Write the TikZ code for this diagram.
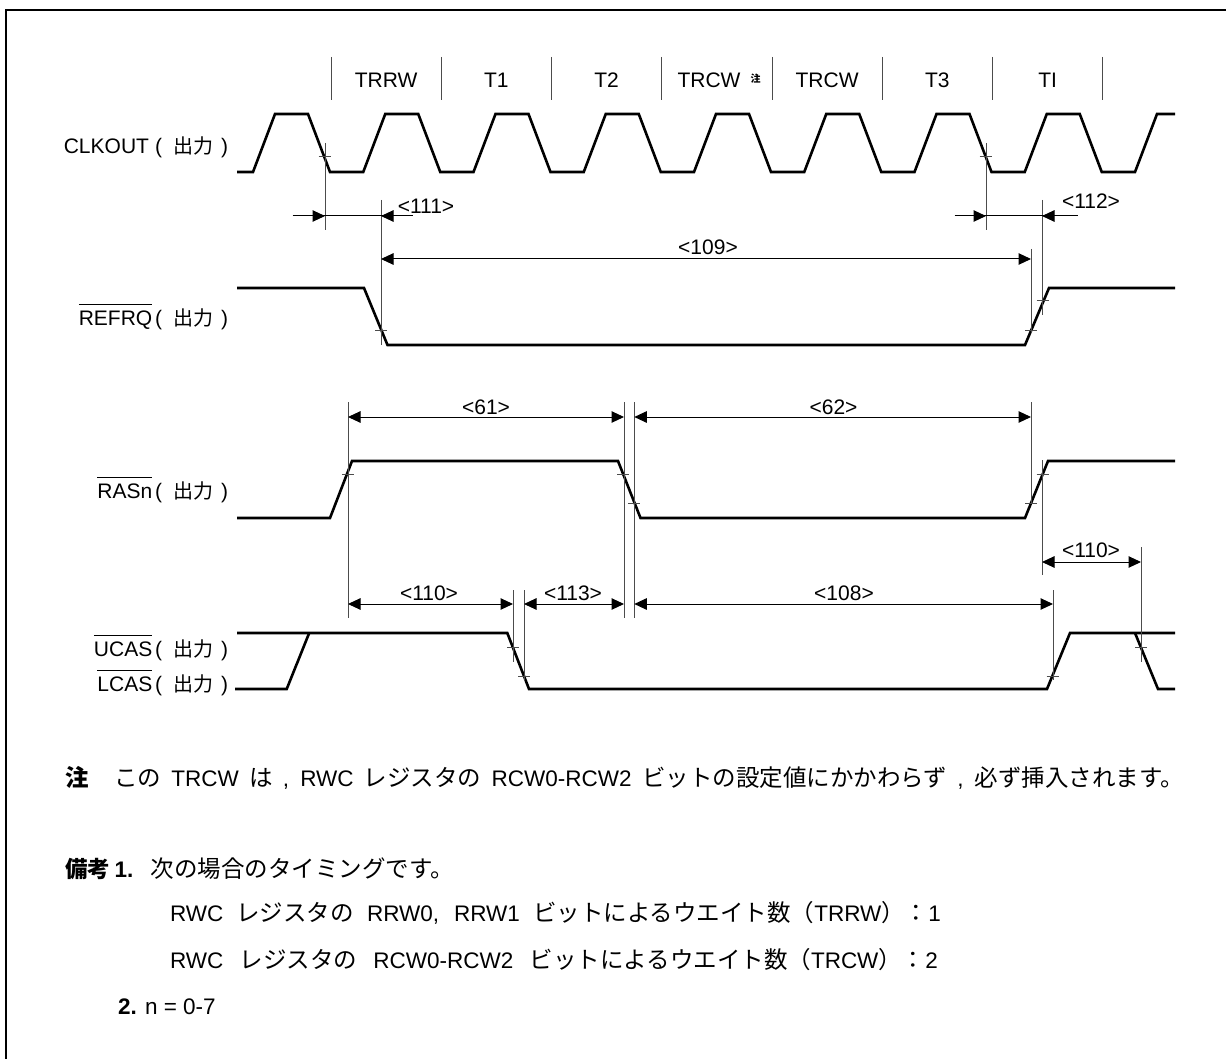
\documentclass[tikz,border=0pt]{standalone}
\usepackage{fontspec}
\setmainfont{Liberation Sans}
\newfontfamily\jp{Noto Sans CJK JP}
\usetikzlibrary{arrows.meta}
\newcommand\J[1]{{\fontsize{23.5}{27}\selectfont\jp #1}}
\newcommand\outp{(\hspace{11pt}{\fontsize{20}{22}\selectfont\jp 出力}\hspace{8pt})}
\tikzset{
  wave/.style={line width=2.6pt},
  ext/.style={line width=1pt, black!70},
  tk/.style={line width=1pt, black!70},
  dimline/.style={line width=1pt},
  dimarr/.style={line width=1pt, {Triangle[length=12.5pt,width=11.5pt]}-{Triangle[length=12.5pt,width=11.5pt]}},
  tipr/.style={line width=1pt, -{Triangle[length=12.5pt,width=11.5pt]}},
  txt/.style={font=\fontsize{21}{25}\selectfont, inner sep=0pt, outer sep=0pt},
  btxt/.style={font=\fontsize{22.5}{27}\selectfont, inner sep=0pt, outer sep=0pt, anchor=base west},
}
\begin{document}
\begin{tikzpicture}[x=1pt,y=-1pt]
\useasboundingbox (0,0) rectangle (1226,1059);
% frame
\draw[line width=1.6pt] (6,1062) -- (6,10) -- (1229,10);

% cycle markers
\foreach \k in {0,...,7} \draw[ext] ({331+110.25*\k},57) -- ++(0,43);
\foreach \t/\c [count=\i] in {TRRW/0, T1/1, T2/2, TRCW/4, T3/5, TI/6}
  \node[txt, anchor=base] (cyc\i) at ({386.1+110.25*\c},87.3) {\t};
\node[txt, anchor=base west] (cycn) at (677.5,87.3) {TRCW};
\node[inner sep=0pt, anchor=base west, font=\fontsize{10}{10}\selectfont] (cycnote) at (750.5,82.5) {\jp\bfseries 注};

% signal labels
\foreach \nm/\lab/\bl/\xe in {clk/CLKOUT/154/149, ref/REFRQ/325/152.3, ras/RASn/498.3/152.3, ucas/UCAS/656.7/152.3, lcas/LCAS/691.7/152.3}{
  \node[txt, anchor=base west] (\nm sfx) at (155.2,\bl) {\outp};
  \node[txt, anchor=base east] (\nm) at (\xe,\bl) {\lab};
}
\foreach \nm in {ref, ras, ucas, lcas}
  \draw[line width=0.9pt] ([shift={(0,-21)}]\nm.base west) -- ([shift={(0,-21)}]\nm.base east);

% waveforms
\draw[wave] (237,172) \foreach \k in {0,...,7}{ -- ({253+110.25*\k},172) -- ({275+110.25*\k},114) -- ({308+110.25*\k},114) -- ({330+110.25*\k},172)} -- (1135,172) -- (1157,114) -- (1175,114);
\draw[wave] (237,288) -- (364,288) -- (387.5,345) -- (1025,345) -- (1049,288) -- (1175,288);
\draw[wave] (237,518) -- (330,518) -- (352,461) -- (618,461) -- (640.5,518) -- (1025,518) -- (1048,461) -- (1175,461);
\draw[wave] (237,633) -- (507.3,633) -- (529,689) -- (1047,689) -- (1070,633) -- (1175,633);
\draw[wave] (235,689) -- (286.7,689) -- (309.2,633);
\draw[wave] (1135,633) -- (1158,689) -- (1175,689);

% threshold ticks
\foreach \x/\y in {324.5/157, 985.7/157, 381/330, 1031/330, 1042.6/301,
  348/474.3, 623/474.3, 634/503.3, 1031/503.3, 1042.5/474.3,
  513/647.3, 524/676.7, 1052.5/676.7, 1141/647.3}
  \draw[tk] (\x-6,\y) -- (\x+6,\y);

% extension lines
\foreach \x/\ya/\yb in {325/143/230, 381/200/345, 986/143/230, 1042/200/315, 1031/249/333,
  348/402/618, 624/402/618, 634.3/402/618, 1031/402/503, 1042/460/575,
  513/590/662, 524/590/681, 1053/590/680, 1141/547/662}
  \draw[ext] (\x,\ya) -- (\x,\yb);

% dimension <111> (outside arrows)
\coordinate (d111a) at (325,216);
\coordinate (d111b) at (381,216);
\draw[dimline] ([xshift=-32.4pt]d111a) -- ([xshift=32pt]d111b);
\draw[tipr] ([xshift=-22pt]d111a) -- (d111a);
\draw[tipr] ([xshift=22pt]d111b) -- (d111b);
\node[txt, anchor=base] (l111) at (426,213.3) {<111>};
% dimension <112>
\coordinate (d112a) at (986,216);
\coordinate (d112b) at (1042,216);
\draw[dimline] ([xshift=-31.5pt]d112a) -- ([xshift=35.8pt]d112b);
\draw[tipr] ([xshift=-22pt]d112a) -- (d112a);
\draw[tipr] ([xshift=22pt]d112b) -- (d112b);
\node[txt, anchor=base] (l112) at (1091,208.3) {<112>};

% inner dimensions
\coordinate (d109a) at (381,259);   \coordinate (d109b) at (1031,259);
\coordinate (d61a) at (348,417);    \coordinate (d61b) at (624,417);
\coordinate (d62a) at (634.3,417);  \coordinate (d62b) at (1031,417);
\coordinate (d110a) at (348,604);   \coordinate (d110b) at (513,604);
\coordinate (d113a) at (524,604);   \coordinate (d113b) at (624,604);
\coordinate (d108a) at (634.3,604); \coordinate (d108b) at (1053,604);
\coordinate (d110c) at (1042,562);  \coordinate (d110d) at (1141,562);
\draw[dimarr] (d109a) -- (d109b);
\draw[dimarr] (d61a) -- (d61b);
\draw[dimarr] (d62a) -- (d62b);
\draw[dimarr] (d110a) -- (d110b);
\draw[dimarr] (d113a) -- (d113b);
\draw[dimarr] (d108a) -- (d108b);
\draw[dimarr] (d110c) -- (d110d);
\node[txt, anchor=base] (l109) at (708,255) {<109>};
\node[txt, anchor=base] (l61) at (486,414) {<61>};
\node[txt, anchor=base] (l62) at (833.5,414) {<62>};
\node[txt, anchor=base] (l110) at (429,600.7) {<110>};
\node[txt, anchor=base] (l113) at (573,600.7) {<113>};
\node[txt, anchor=base] (l108) at (844,600.7) {<108>};
\node[txt, anchor=base] (l110r) at (1091,557.3) {<110>};

% notes
\node[btxt] (n1a) at (65,786.7) {\J{\bfseries 注}};
\node[btxt] (n1b) at (114,786.7) {\makebox[1070pt][s]{\J{この} TRCW \J{は} , RWC \J{レジスタの} RCW0-RCW2 \J{ビットの設定値にかかわらず} , \J{必ず挿入されます。}}};
\node[btxt] (n2a) at (65,877.3) {{\fontsize{22.5}{27}\selectfont\jp\bfseries 備考}};
\node[btxt] (n2b) at (114.5,877.3) {\bfseries 1.};
\node[btxt] (n2c) at (150.5,877.3) {\J{次の場合のタイミングです。}};
\node[btxt] (n3) at (170,921.7) {\makebox[771pt][s]{RWC \J{レジスタの} RRW0, RRW1 \J{ビットによるウエイト数（}TRRW\J{）：}1}};
\node[btxt] (n4) at (170,968.3) {\makebox[768pt][s]{RWC \J{レジスタの} RCW0-RCW2 \J{ビットによるウエイト数（}TRCW\J{）：}2}};
\node[btxt] (n5) at (118,1014) {{\bfseries 2.} n = 0-7};
\end{tikzpicture}
\end{document}
